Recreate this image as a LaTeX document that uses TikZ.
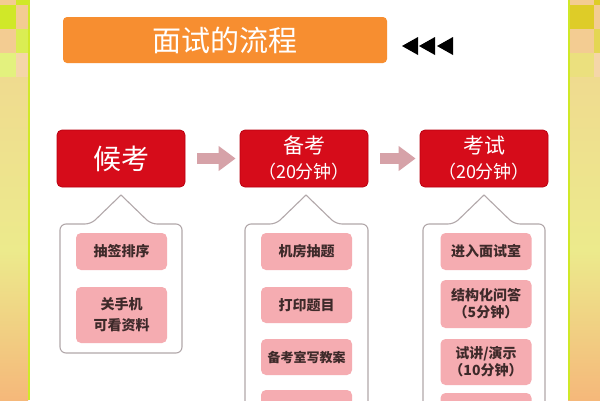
\documentclass[tikz,border=0pt]{standalone}
\usepackage{fontspec}
\newfontfamily\cjk{Noto Sans CJK SC}
\usepackage{xcolor}
\usetikzlibrary{arrows.meta}
\definecolor{MSOrange}{RGB}{247, 142, 48}
\definecolor{MSRed}{RGB}{214, 12, 26}
\definecolor{MSRedDark}{RGB}{186, 0, 16}
\definecolor{MSPink}{RGB}{245, 172, 177}
\definecolor{MSArrow}{RGB}{214, 162, 168}
\definecolor{MSGrey}{RGB}{178, 168, 170}
\definecolor{MSText}{RGB}{62, 42, 42}
\definecolor{MSLime}{RGB}{208, 232, 40}
\definecolor{MSMustard}{RGB}{222, 204, 40}
\definecolor{MSPeach}{RGB}{243, 204, 146}
\definecolor{MSPale}{RGB}{236, 234, 140}
\definecolor{MSBottom}{RGB}{245, 184, 122}

\begin{document}
\begin{tikzpicture}[x=1pt,y=-1pt,
  titlebar/.style={fill=MSOrange, rounded corners=4pt, minimum width=324pt, minimum height=46pt,
    inner sep=0pt, text=white, font=\cjk\fontsize{29}{32}\selectfont},
  redbox/.style={fill=MSRed, draw=MSRedDark, line width=0.8pt, rounded corners=5pt,
    minimum width=128pt, minimum height=57pt, inner sep=0pt, text=white, align=center,
    font=\cjk\fontsize{21}{25}\selectfont},
  itembox/.style={fill=MSPink, rounded corners=5pt, minimum width=91pt, inner sep=0pt,
    text=MSText, align=center, font=\cjk\bfseries\fontsize{14}{17}\selectfont},
  flowarrow/.style={MSArrow, line width=11pt, -{Triangle[length=17pt,width=24pt]},
    shorten <=12pt, shorten >=4pt},
  panelline/.style={draw=MSGrey, line width=1.1pt, rounded corners=6pt, line cap=round}]
  \clip (0,0) rectangle (600,400);
  \fill[white] (0,0) rectangle (600,400);

  % side strips
  \shade[top color=MSPeach!50!MSPale, bottom color=MSPale] (0,77) rectangle (28,250);
  \shade[top color=MSPale, bottom color=MSBottom] (0,250) rectangle (28,400);
  \shade[top color=MSPeach!50!MSPale, bottom color=MSPale] (568,77) rectangle (600,250);
  \shade[top color=MSPale, bottom color=MSBottom] (568,250) rectangle (600,400);
  \fill[MSPeach] (0,-19) rectangle (16,5);
  \fill[MSLime] (16,-19) rectangle (28,5);
  \fill[MSLime] (0,5) rectangle (16,29);
  \fill[MSPeach] (16,5) rectangle (28,29);
  \fill[MSPeach] (0,29) rectangle (16,53);
  \fill[MSLime!80!white] (16,29) rectangle (28,53);
  \fill[MSLime!60!white] (0,53) rectangle (16,77);
  \fill[MSPeach!80!white] (16,53) rectangle (28,77);
  \fill[MSPeach] (570,-19) rectangle (594,5);
  \fill[MSMustard] (594,-19) rectangle (600,5);
  \fill[MSMustard] (570,5) rectangle (594,29);
  \fill[MSPeach] (594,5) rectangle (600,29);
  \fill[MSPeach] (570,29) rectangle (594,53);
  \fill[MSMustard!80!white] (594,29) rectangle (600,53);
  \fill[MSMustard!60!white] (570,53) rectangle (594,77);
  \fill[MSPeach!80!white] (594,53) rectangle (600,77);
  \draw[MSLime, line width=2.5pt] (29,0) -- (29,400);
  \draw[MSLime, line width=2.5pt] (569,0) -- (569,400);

  % title
  \node[titlebar] (title) at (225,40) {面试的流程};
  \fill[black] (402,46) -- (418,37) -- (418,55) -- cycle;
  \fill[black] (419,46) -- (435,37) -- (435,55) -- cycle;
  \fill[black] (437,46) -- (453,37) -- (453,55) -- cycle;

  % stages
  \node[redbox] (houkao) at (121,158.5) {{\fontsize{28}{30}\selectfont 候考}};
  \node[redbox] (beikao) at (304,158.5) {备考\\{\fontsize{18}{25}\selectfont （20分钟）}};
  \node[redbox] (kaoshi) at (484,158.5) {考试\\{\fontsize{18}{25}\selectfont （20分钟）}};
  \draw[flowarrow] (houkao) -- (beikao);
  \draw[flowarrow] (beikao) -- (kaoshi);

  % panels
  \draw[panelline] (121,195) -- (151,224) -- (182,224) -- (182,353) -- (60,353) -- (60,224) -- (91,224) -- (121,195);
  \draw[panelline] (306,195) -- (336,224) -- (368,224) -- (368,420) -- (245,420) -- (245,224) -- (276,224) -- (306,195);
  \draw[panelline] (484,195) -- (514,224) -- (545,224) -- (545,420) -- (423,420) -- (423,224) -- (454,224) -- (484,195);

  \node[itembox, minimum height=37pt] (chouqian) at (121.5,251.5) {抽签排序};
  \node[itembox, minimum height=56pt, font=\cjk\bfseries\fontsize{14}{21}\selectfont] (guanji) at (121.5,315) {关手机\\可看资料};

  \node[itembox, minimum height=37pt] (chouti) at (306.5,251.5) {机房抽题};
  \node[itembox, minimum height=36pt] (dayin) at (306.5,305) {打印题目};
  \node[itembox, minimum height=36pt, font=\cjk\bfseries\fontsize{13}{17}\selectfont] (jiaoan) at (306.5,357) {备考室写教案};
  \node[itembox, minimum height=36pt] (beikaoend) at (306.5,408) {};

  \node[itembox, minimum height=37pt] (jinru) at (486,251.5) {进入面试室};
  \node[itembox, minimum height=48pt] (wenda) at (486,304) {结构化问答\\（5分钟）};
  \node[itembox, minimum height=46pt] (shijiang) at (486,362) {试讲/演示\\（10分钟）};
  \node[itembox, minimum height=36pt] (kaoshiend) at (486,411) {};
\end{tikzpicture}
\end{document}
